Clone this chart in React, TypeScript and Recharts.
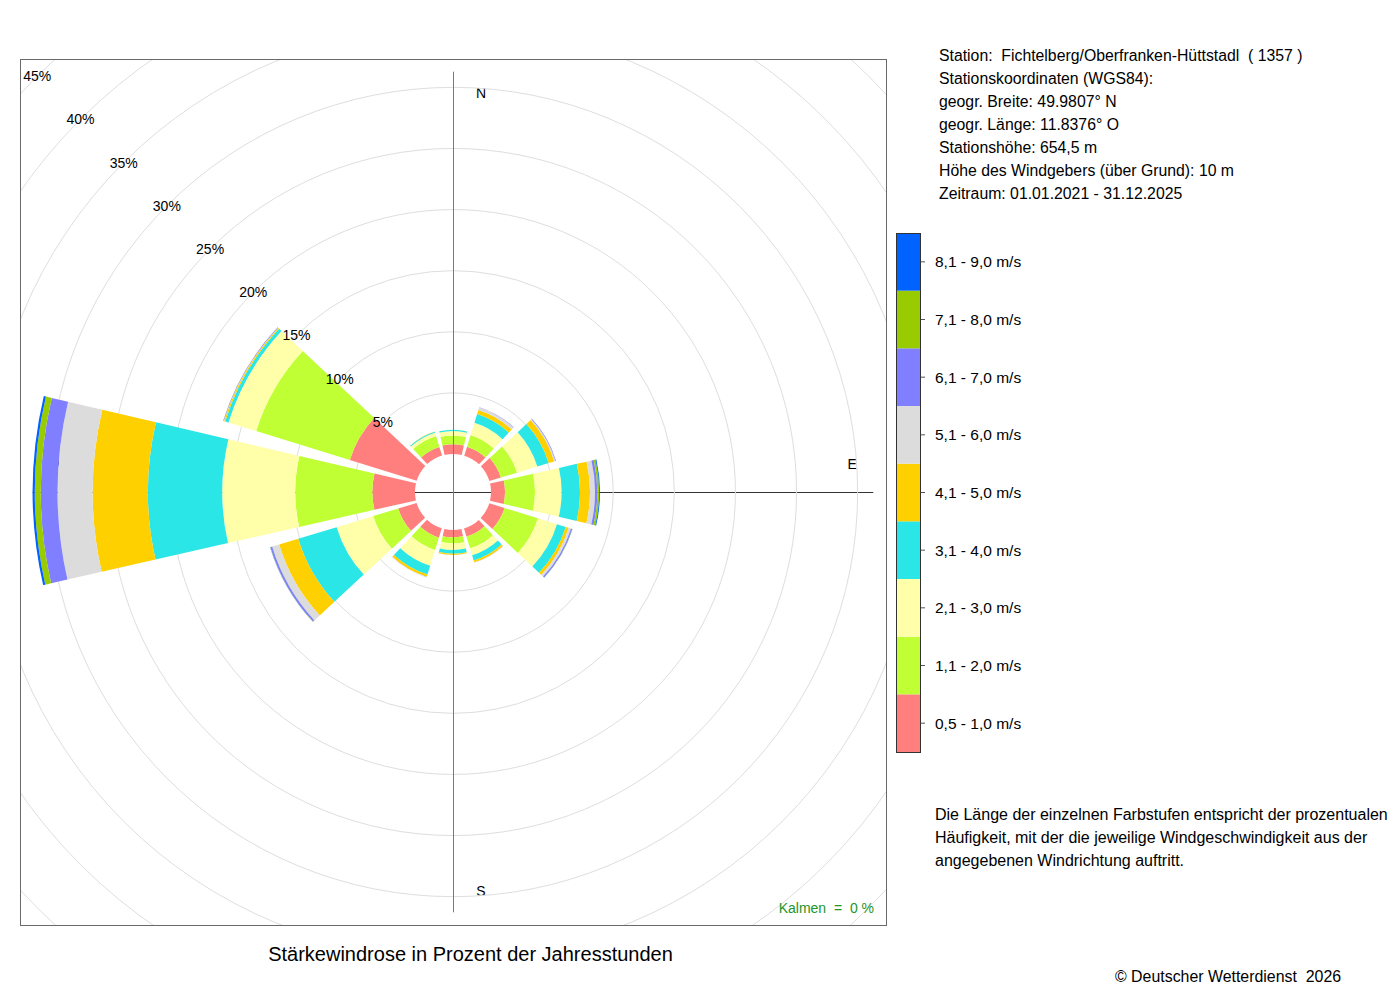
import React from 'react';
import { RadialBarChart, RadialBar, PolarAngleAxis, PolarRadiusAxis, PolarGrid } from 'recharts';

// ---- data (percent of annual hours), clockwise from north ----
const directions = ['N', 'NNO', 'ONO', 'O', 'OSO', 'SSO', 'S', 'SSW', 'WSW', 'W', 'WNW', 'NNW'];
const speed05to10 = [0.80, 0.77, 0.98, 1.15, 1.31, 0.70, 0.60, 0.80, 1.57, 3.49, 5.73, 0.74];
const speed11to20 = [0.72, 1.00, 1.39, 2.45, 2.86, 1.00, 0.50, 1.05, 2.14, 6.31, 8.02, 0.94];
const speed21to30 = [0.36, 1.05, 1.73, 2.18, 1.63, 0.60, 0.53, 1.35, 3.13, 5.97, 2.37, 0.28];
const speed31to40 = [0.10, 0.75, 0.97, 1.50, 0.75, 0.45, 0.31, 0.75, 3.28, 6.08, 0.28, 0.09];
const speed41to50 = [0.01, 0.34, 0.48, 0.82, 0.25, 0.15, 0.10, 0.20, 1.63, 4.52, 0.10, 0.01];
const speed51to60 = [0.00, 0.21, 0.10, 0.41, 0.20, 0.03, 0.01, 0.03, 0.60, 2.87, 0.03, 0.00];
const speed61to70 = [0.00, 0.03, 0.05, 0.19, 0.10, 0.01, 0.00, 0.01, 0.15, 1.37, 0.04, 0.00];
const speed71to80 = [0.00, 0.00, 0.00, 0.15, 0.02, 0.00, 0.00, 0.00, 0.02, 0.49, 0.01, 0.00];
const speed81to90 = [0.00, 0.00, 0.00, 0.07, 0.01, 0.00, 0.00, 0.00, 0.01, 0.18, 0.00, 0.00];

const speedClassLabels = [
  '0,5 - 1,0 m/s', '1,1 - 2,0 m/s', '2,1 - 3,0 m/s', '3,1 - 4,0 m/s', '4,1 - 5,0 m/s',
  '5,1 - 6,0 m/s', '6,1 - 7,0 m/s', '7,1 - 8,0 m/s', '8,1 - 9,0 m/s',
];
const classColors = ['#FF7F7F', '#BFFF33', '#FFFFAA', '#2BE6E6', '#FFD000', '#DCDCDC', '#7F7FFF', '#99CC00', '#0062FF'];
const radiusTicks = [5, 10, 15, 20, 25, 30, 35, 40, 45];
const compassLabels = ['N', 'E', 'S', 'W'];

const stationLines = [
  'Station:  Fichtelberg/Oberfranken-Hüttstadl  ( 1357 )',
  'Stationskoordinaten (WGS84):',
  'geogr. Breite: 49.9807° N',
  'geogr. Länge: 11.8376° O',
  'Stationshöhe: 654,5 m',
  'Höhe des Windgebers (über Grund): 10 m',
  'Zeitraum: 01.01.2021 - 31.12.2025',
];
const noteLines = [
  'Die Länge der einzelnen Farbstufen entspricht der prozentualen',
  'Häufigkeit, mit der die jeweilige Windgeschwindigkeit aus der',
  'angegebenen Windrichtung auftritt.',
];

const classSeries = [speed05to10, speed11to20, speed21to30, speed31to40, speed41to50, speed51to60, speed61to70, speed71to80, speed81to90];
const tableData = directions.map((dir, i) => {
  const row: Record<string, number | string> = { dir };
  classSeries.forEach((s, k) => { row['c' + k] = s[i]; });
  return row;
});
const totals = directions.map((_, i) => classSeries.reduce((a, s) => a + s[i], 0));
const maxTotal = Math.max(...totals);

const FONT = '"Liberation Sans", Arial, Helvetica, sans-serif';

// geometry of the polar panel
const BOX_L = 20, BOX_T = 59, BOX = 867;
const CX = 433, CY = 433; // within panel
const INNER_R = 38;
const OUTER_R = 588;
const R_MAX = 45;
const axisLen = INNER_R + (maxTotal / R_MAX) * (OUTER_R - INNER_R);

const PctTick = (props: any) => {
  const { x, y, payload } = props;
  return (
    <text x={x} y={y} textAnchor="middle" dominantBaseline="central" fontSize={14} fontFamily={FONT} fill="#000">
      {payload.value}%
    </text>
  );
};

export default function App() {
  const pcx = BOX_L + CX;
  const pcy = BOX_T + CY;
  const labelR = axisLen * 0.95;
  return (
    <div style={{ position: 'absolute', left: 0, top: 0, width: 1400, height: 1000, background: '#fff', fontFamily: FONT }}>
      {/* under layer: horizontal axis line and compass labels */}
      <svg style={{ position: 'absolute', left: 0, top: 0 }} width={1400} height={1000}>
        <line x1={pcx - axisLen} y1={pcy + 0.5} x2={pcx + axisLen} y2={pcy + 0.5} stroke="#333" strokeWidth={1} />
        <text x={pcx + 28} y={pcy - labelR} textAnchor="middle" dominantBaseline="central" fontSize={14} fontFamily={FONT}>{compassLabels[0]}</text>
        <text x={pcx + labelR} y={pcy - 28} textAnchor="middle" dominantBaseline="central" fontSize={14} fontFamily={FONT}>{compassLabels[1]}</text>
        <text x={pcx + 28} y={pcy + labelR} textAnchor="middle" dominantBaseline="central" fontSize={14} fontFamily={FONT}>{compassLabels[2]}</text>
        <text x={pcx - labelR} y={pcy - 28} textAnchor="middle" dominantBaseline="central" fontSize={14} fontFamily={FONT}>{compassLabels[3]}</text>
      </svg>

      <div style={{ position: 'absolute', left: BOX_L, top: BOX_T, width: BOX, height: BOX, overflow: 'hidden' }}>
        <RadialBarChart
          width={BOX}
          height={BOX}
          data={tableData}
          layout="centric"
          cx={CX}
          cy={CY}
          innerRadius={INNER_R}
          outerRadius={OUTER_R}
          startAngle={75}
          endAngle={-285}
          barCategoryGap="6%"
          margin={{ top: 0, right: 0, bottom: 0, left: 0 }}
        >
          <PolarGrid gridType="circle" radialLines={false} stroke="#dedede" />
          <PolarAngleAxis dataKey="dir" type="category" tick={false} axisLine={false} tickLine={false} />
          {classSeries.map((_, k) => (
            <RadialBar
              key={k}
              dataKey={'c' + k}
              stackId="rose"
              fill={classColors[k]}
              stroke="none"
              isAnimationActive={false}
            />
          ))}
          <PolarRadiusAxis
            type="number"
            domain={[0, R_MAX]}
            ticks={radiusTicks}
            angle={135}
            axisLine={false}
            tickLine={false}
            tick={PctTick}
            allowDataOverflow
          />
        </RadialBarChart>
      </div>

      {/* over layer: vertical axis line */}
      <svg style={{ position: 'absolute', left: 0, top: 0, pointerEvents: 'none' }} width={1400} height={1000}>
        <line x1={pcx + 0.5} y1={pcy - axisLen} x2={pcx + 0.5} y2={pcy + axisLen} stroke="#7a7a7a" strokeWidth={1} />
      </svg>

      {/* panel border */}
      <div style={{ position: 'absolute', left: BOX_L, top: BOX_T, width: BOX, height: BOX, boxSizing: 'border-box', border: '1px solid #6a6a6a' }} />

      <div style={{ position: 'absolute', left: 0, top: 896, width: 874, textAlign: 'right', fontSize: 14, lineHeight: '24px', color: '#22962a', whiteSpace: 'pre' }}>
        {'Kalmen  =  0 %'}
      </div>

      {/* station info */}
      <div style={{ position: 'absolute', left: 939, top: 43.5, fontSize: 15.8, lineHeight: '23px', color: '#000', whiteSpace: 'pre' }}>
        {stationLines.map((l, i) => <div key={i}>{l}</div>)}
      </div>

      {/* legend colour bar */}
      <svg style={{ position: 'absolute', left: 0, top: 0, pointerEvents: 'none' }} width={1400} height={1000}>
        {speedClassLabels.map((lab, k) => {
          const h = 519 / 9;
          const idx = 8 - k;
          const y = 233 + idx * h;
          return (
            <g key={k}>
              <rect x={896} y={y} width={24} height={h} fill={classColors[k]} />
              <line x1={920} y1={y + h / 2} x2={925} y2={y + h / 2} stroke="#555" />
              <text x={935} y={y + h / 2} dominantBaseline="central" fontSize={15.5} fontFamily={FONT} fill="#000">{lab}</text>
            </g>
          );
        })}
        <rect x={896.5} y={233.5} width={24} height={519} fill="none" stroke="#333" strokeWidth={1} />
      </svg>

      {/* note */}
      <div style={{ position: 'absolute', left: 935, top: 802.5, fontSize: 16, lineHeight: '23px', color: '#000', whiteSpace: 'pre' }}>
        {noteLines.map((l, i) => <div key={i}>{l}</div>)}
      </div>

      {/* title */}
      <div style={{ position: 'absolute', left: 0, top: 942, width: 941, textAlign: 'center', fontSize: 20, lineHeight: '24px', color: '#000' }}>
        Stärkewindrose in Prozent der Jahresstunden
      </div>

      <div style={{ position: 'absolute', left: 1115, top: 964.5, fontSize: 15.9, lineHeight: '23px', color: '#000', whiteSpace: 'pre' }}>
        {'© Deutscher Wetterdienst  2026'}
      </div>
    </div>
  );
}
